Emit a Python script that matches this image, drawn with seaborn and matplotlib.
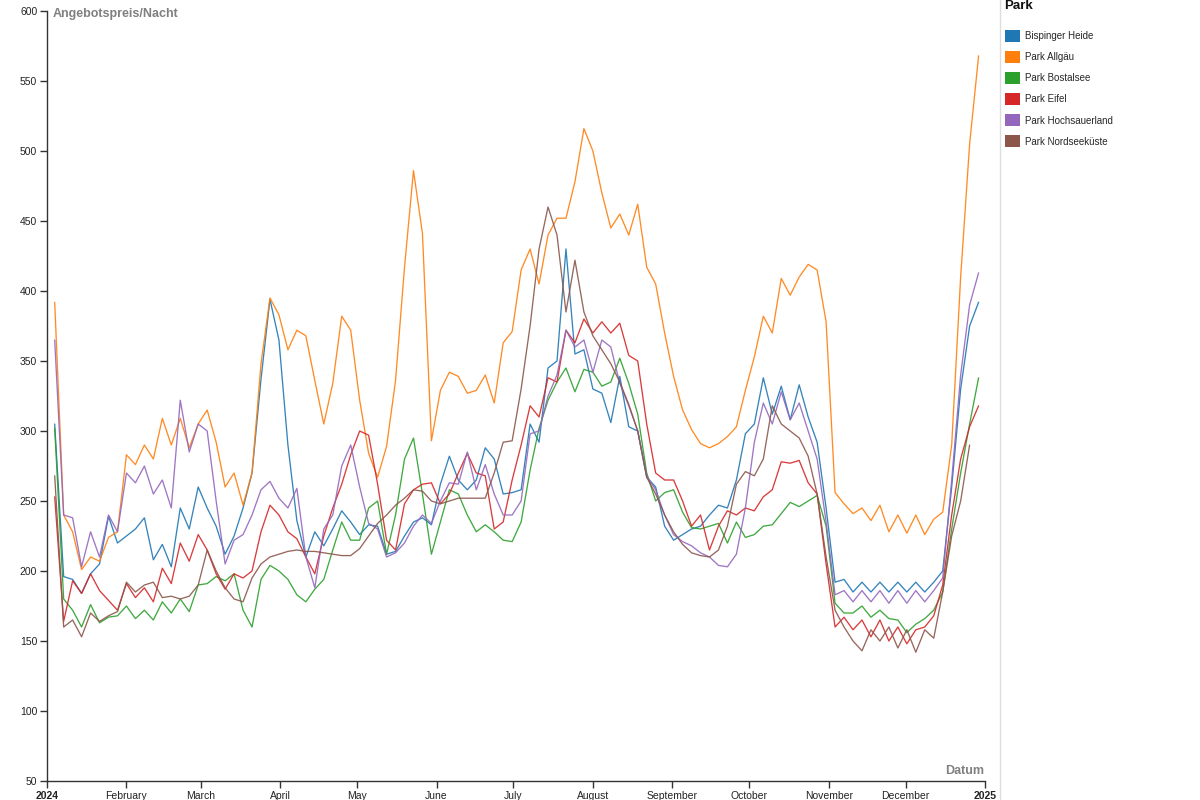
import numpy as np
import pandas as pd
import seaborn as sns
import matplotlib.pyplot as plt
from matplotlib.patches import Patch
from matplotlib.lines import Line2D

nan = np.nan

dates = pd.date_range("2024-01-04", periods=104, freq="84h")

parks = ["Bispinger Heide", "Park Allgäu", "Park Bostalsee",
         "Park Eifel", "Park Hochsauerland", "Park Nordseeküste"]
colors = ["#1f77b4", "#ff7f0e", "#2ca02c", "#d62728", "#9467bd", "#8c564b"]

bispinger_heide = [
    305, 196, 194, 184, 198, 205, 239, 220, 225, 230,
    238, 208, 219, 203, 245, 230, 260, 245, 232, 212,
    225, 245, 270, 337, 394, 365, 290, 236, 210, 228,
    218, 230, 243, 235, 226, 233, 232, 212, 214, 225,
    235, 238, 233, 262, 282, 265, 258, 265, 288, 280,
    255, 256, 258, 305, 292, 345, 350, 430, 355, 358,
    330, 327, 306, 339, 303, 300, 267, 260, 232, 222,
    226, 230, 232, 240, 247, 245, 265, 298, 305, 338,
    312, 332, 308, 333, 310, 292, 245, 192, 194, 185,
    192, 185, 192, 185, 192, 185, 192, 185, 192, 200,
    260, 330, 375, 392]

park_allgaeu = [
    392, 240, 228, 201, 210, 207, 224, 228, 283, 276,
    290, 280, 309, 290, 309, 288, 305, 315, 292, 260,
    270, 247, 270, 348, 395, 383, 358, 372, 368, 336,
    305, 334, 382, 372, 322, 284, 267, 289, 336, 417,
    486, 441, 293, 329, 342, 339, 327, 329, 340, 320,
    363, 371, 415, 430, 405, 440, 452, 452, 478, 516,
    500, 470, 445, 455, 440, 462, 417, 405, 370, 339,
    315, 301, 291, 288, 291, 296, 303, 329, 353, 382,
    370, 409, 397, 410, 419, 415, 378, 256, 248, 241,
    245, 236, 247, 228, 240, 227, 240, 226, 237, 242,
    290, 410, 505, 568]

park_bostalsee = [
    302, 180, 172, 160, 176, 163, 167, 168, 175, 166,
    172, 165, 178, 170, 180, 171, 190, 191, 196, 193,
    198, 172, 160, 194, 204, 200, 194, 183, 178, 187,
    194, 215, 235, 222, 222, 245, 250, 212, 240, 280,
    295, 255, 212, 235, 258, 255, 240, 228, 233, 228,
    222, 221, 235, 272, 302, 322, 335, 345, 328, 344,
    342, 332, 335, 352, 334, 312, 270, 250, 256, 258,
    242, 231, 230, 232, 234, 220, 235, 224, 226, 232,
    233, 241, 249, 246, 250, 254, 232, 177, 170, 170,
    175, 167, 172, 166, 165, 156, 162, 166, 172, 185,
    230, 270, 305, 338]

park_eifel = [
    253, 164, 193, 184, 198, 186, 179, 172, 191, 181,
    188, 178, 202, 191, 220, 207, 226, 215, 198, 187,
    198, 195, 200, 228, 247, 240, 228, 223, 210, 198,
    225, 245, 262, 283, 300, 297, 262, 222, 215, 248,
    258, 262, 263, 248, 255, 270, 284, 270, 268, 230,
    235, 265, 290, 318, 310, 338, 335, 372, 363, 380,
    370, 378, 370, 377, 354, 350, 305, 270, 265, 265,
    250, 232, 240, 215, 232, 243, 240, 245, 243, 253,
    258, 278, 277, 279, 263, 255, 205, 160, 167, 158,
    165, 153, 165, 150, 160, 148, 158, 160, 168, 190,
    240, 280, 303, 318]

park_hochsauerland = [
    365, 240, 238, 203, 228, 210, 240, 228, 270, 263,
    275, 255, 265, 245, 322, 285, 305, 300, 250, 205,
    222, 226, 240, 258, 264, 252, 245, 259, 210, 188,
    230, 240, 275, 290, 260, 234, 230, 210, 213, 220,
    232, 240, 234, 250, 263, 262, 285, 258, 276, 255,
    240, 240, 250, 298, 300, 325, 340, 372, 360, 365,
    342, 365, 360, 334, 318, 300, 268, 258, 240, 226,
    221, 218, 213, 210, 204, 203, 212, 245, 292, 320,
    305, 328, 308, 320, 300, 280, 235, 183, 186, 178,
    186, 178, 186, 177, 186, 177, 186, 178, 186, 195,
    265, 340, 390, 413]

park_nordseekueste = [
    268, 160, 165, 153, 170, 164, 168, 171, 192, 185,
    190, 192, 181, 182, 180, 182, 190, 215, 200, 188,
    180, 178, 195, 205, 210, 212, 214, 215, 214, 214,
    213, 212, 211, 211, 216, 225, 234, 240, 247, 252,
    258, 257, 250, 248, 250, 252, 252, 252, 252, 270,
    292, 293, 330, 375, 430, 460, 440, 385, 422, 385,
    368, 358, 348, 335, 319, 300, 267, 255, 240, 228,
    219, 213, 211, 210, 215, 232, 262, 271, 268, 280,
    318, 305, 300, 295, 282, 255, 210, 172, 160, 150,
    143, 158, 150, 160, 145, 158, 142, 158, 152, 185,
    225, 250, 290, nan]

month_ticks = pd.date_range("2024-01-01", "2025-01-01", freq="MS")
month_labels = ["2024", "February", "March", "April", "May", "June", "July",
                "August", "September", "October", "November", "December", "2025"]

series = [bispinger_heide, park_allgaeu, park_bostalsee,
          park_eifel, park_hochsauerland, park_nordseekueste]
df = pd.concat([pd.DataFrame({"Datum": dates, "Preis": vals, "Park": name})
                for name, vals in zip(parks, series)], ignore_index=True)

sns.set_theme(style="white")
plt.rcParams["font.family"] = ["Liberation Sans", "DejaVu Sans"]

fig = plt.figure(figsize=(12, 8), dpi=100)
ax = fig.add_axes([47 / 1200, 19 / 800, 938 / 1200, 770 / 800])

sns.lineplot(data=df, x="Datum", y="Preis", hue="Park", hue_order=parks,
             palette=colors, linewidth=0.95, alpha=0.9, estimator=None,
             legend=False, ax=ax)

ax.set_xlim(pd.Timestamp("2024-01-01"), pd.Timestamp("2025-01-01"))
ax.set_ylim(50, 600)
ax.set_yticks(range(50, 601, 50))
ax.set_xticks(month_ticks)
ax.set_xticklabels(month_labels)
for lab in (ax.get_xticklabels()[0], ax.get_xticklabels()[-1]):
    lab.set_fontweight("bold")
ax.set_xlabel("")
ax.set_ylabel("")
ax.tick_params(axis="both", direction="out", length=5, width=1, color="#333333",
               labelsize=7.5, labelcolor="#222222", pad=2, left=True, bottom=True)
for side in ("top", "right"):
    ax.spines[side].set_visible(False)
for side in ("left", "bottom"):
    ax.spines[side].set_color("#333333")
    ax.spines[side].set_linewidth(1)

fig.text(53 / 1200, 1 - 14 / 800, "Angebotspreis/Nacht", ha="left", va="center",
         fontsize=9, fontweight="bold", color="#808080")
fig.text(984 / 1200, 1 - 771 / 800, "Datum", ha="right", va="center",
         fontsize=9, fontweight="bold", color="#808080")

# legend: title on its own, entries below it
fig.text(1004 / 1200, 1 - 6 / 800, "Park", ha="left", va="center",
         fontsize=9.5, fontweight="bold", color="#111111")
handles = [Patch(facecolor=c, edgecolor="none") for c in colors]
fig.legend(handles, parks, loc="upper left", bbox_to_anchor=(1005 / 1200, 1 - 30 / 800),
           frameon=False, fontsize=7, handlelength=1.5, handleheight=1.5,
           handletextpad=0.6, labelspacing=0.95, borderaxespad=0, borderpad=0)

fig.add_artist(Line2D([1000 / 1200, 1000 / 1200], [0, 1], color="#dddddd", lw=1,
                      transform=fig.transFigure))

fig.savefig("out.png", dpi=100)
